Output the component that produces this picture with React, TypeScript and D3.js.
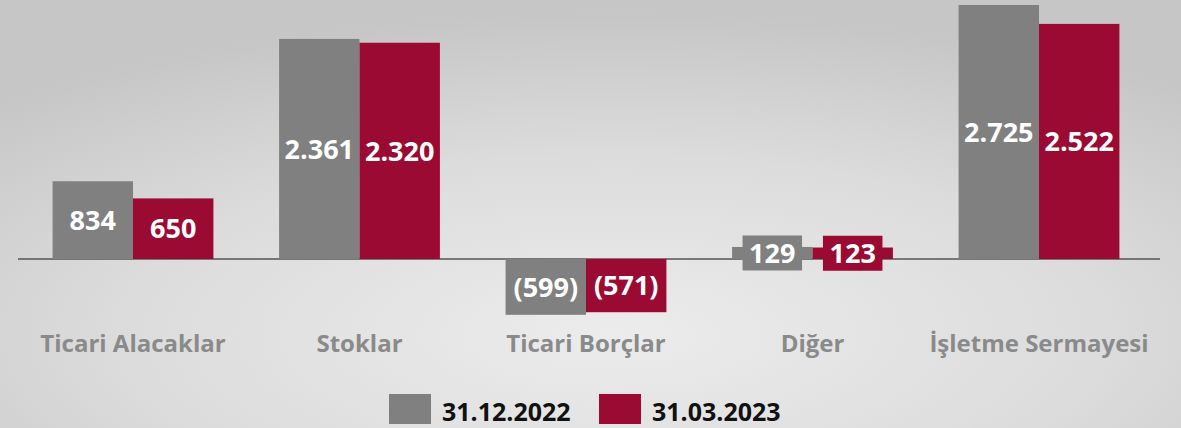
import { useRef, useEffect } from 'react';
import * as d3 from 'd3';

const categories = ["Ticari Alacaklar", "Stoklar", "Ticari Borçlar", "Diğer", "İşletme Sermayesi"];
const seriesNames = ["31.12.2022", "31.03.2023"];
const values2022 = [834, 2361, -599, 129, 2725];
const values2023 = [650, 2320, -571, 123, 2522];
const colors = ["#808080", "#9b0a32"];

const fmt = (v: number) => {
  const s = d3.format(",")(Math.abs(v)).replace(/,/g, ".");
  return v < 0 ? `(${s})` : s;
};

export default function App() {
  const svgRef = useRef<SVGSVGElement>(null);

  useEffect(() => {
    document.body.style.margin = "0";
    const W = 1181, H = 428;
    const svg = d3.select(svgRef.current);
    svg.selectAll("*").remove();
    svg.attr("width", W).attr("height", H);

    // Background
    const defs = svg.append("defs");
    const grad = defs.append("radialGradient").attr("id", "bg")
      .attr("cx", "52%").attr("cy", "78%").attr("r", "75%");
    grad.append("stop").attr("offset", "0%").attr("stop-color", "#ececec");
    grad.append("stop").attr("offset", "55%").attr("stop-color", "#dcdcdc");
    grad.append("stop").attr("offset", "100%").attr("stop-color", "#c6c6c6");
    svg.append("rect").attr("width", W).attr("height", H).attr("fill", "url(#bg)");

    const font = "'Open Sans', sans-serif";

    const x0 = d3.scaleBand<string>()
      .domain(categories)
      .range([19.75, 1152.25])
      .paddingInner(0.29)
      .paddingOuter(0.145);
    const x1 = d3.scaleBand<string>()
      .domain(seriesNames)
      .range([0, x0.bandwidth()]);
    const y = d3.scaleLinear().domain([-1000, 2800]).range([352.2, -2]);

    // zero line (behind bars and labels)
    svg.append("line")
      .attr("x1", 18).attr("x2", 1160)
      .attr("y1", y(0)).attr("y2", y(0))
      .attr("stroke", "#555").attr("stroke-width", 1.5);

    const data = categories.map((c, i) => ({
      cat: c,
      vals: [values2022[i], values2023[i]],
    }));

    const groups = svg.append("g").selectAll("g")
      .data(data).enter().append("g")
      .attr("transform", d => `translate(${x0(d.cat)},0)`);

    groups.each(function (d) {
      const g = d3.select(this);
      d.vals.forEach((v, si) => {
        const bx = x1(seriesNames[si])!;
        const bw = x1.bandwidth();
        const top = y(Math.max(0, v));
        const bot = y(Math.min(0, v));
        g.append("rect")
          .attr("x", bx).attr("y", top)
          .attr("width", bw).attr("height", bot - top)
          .attr("fill", colors[si]);
        const cx = bx + bw / 2;
        const cy = (top + bot) / 2;
        const label = fmt(v);
        // small bars get a filled box behind the label
        if (bot - top < 30) {
          const tw = label.length * 15.5 + 13;
          g.append("rect")
            .attr("x", cx - tw / 2).attr("y", cy - 17.5)
            .attr("width", tw).attr("height", 35)
            .attr("fill", colors[si]);
        }
        g.append("text")
          .attr("x", cx).attr("y", cy)
          .attr("dy", "0.36em")
          .attr("text-anchor", "middle")
          .style("font-family", font).style("font-weight", 700)
          .style("font-size", "27px").attr("fill", "#fff")
          .text(label);
      });
    });

    // category labels
    svg.append("g").selectAll("text")
      .data(categories).enter().append("text")
      .attr("x", d => x0(d)! + x0.bandwidth() / 2)
      .attr("y", 352)
      .attr("text-anchor", "middle")
      .style("font-family", font).style("font-weight", 700)
      .style("font-size", "24px").attr("fill", "#8a8a8a")
      .text(d => d);

    // legend
    const legend = svg.append("g");
    const lx = [389, 599];
    seriesNames.forEach((s, i) => {
      legend.append("rect")
        .attr("x", lx[i]).attr("y", 394)
        .attr("width", 42).attr("height", 30)
        .attr("fill", colors[i]);
      legend.append("text")
        .attr("x", lx[i] + 53).attr("y", 421)
        .style("font-family", font).style("font-weight", 700)
        .style("font-size", "25px").attr("fill", "#111")
        .text(s);
    });
  }, []);

  return <svg ref={svgRef}></svg>;
}
